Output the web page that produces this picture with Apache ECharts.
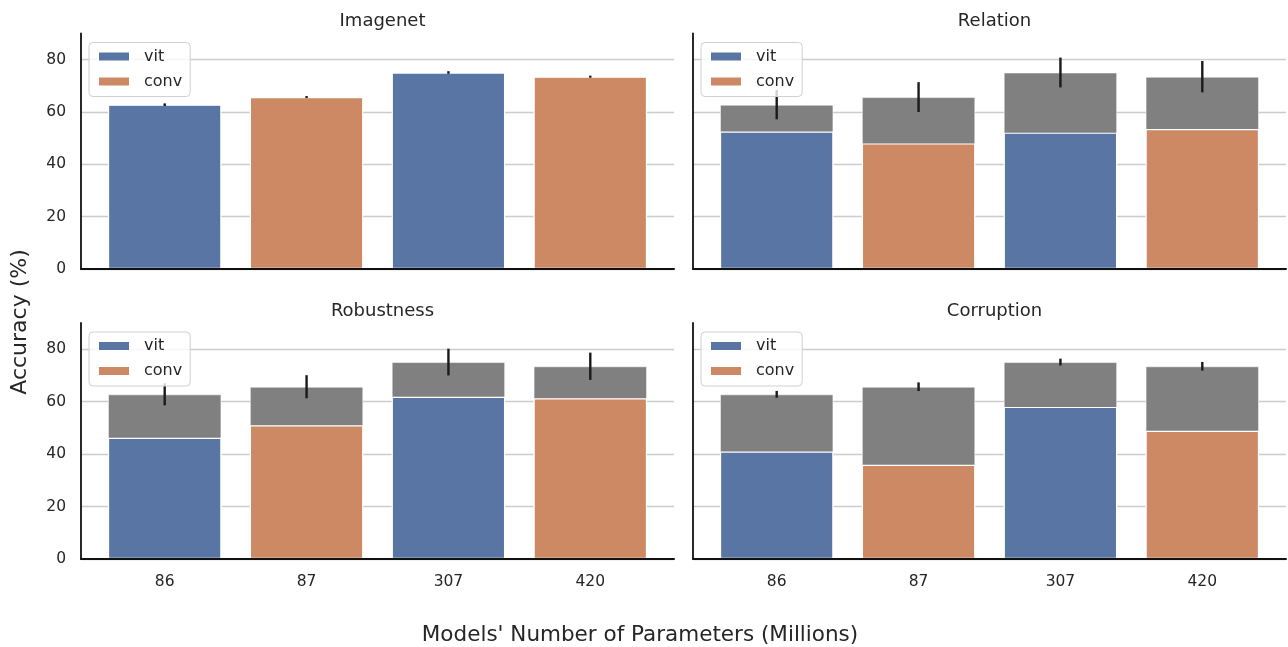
<!DOCTYPE html>
<html>
<head>
<meta charset="utf-8">
<title>Accuracy by model size</title>
<script src="https://cdn.jsdelivr.net/npm/echarts@6/dist/echarts.min.js"></script>
<style>
  html, body { margin: 0; padding: 0; background: #ffffff; }
  #chart { width: 1288px; height: 647px; }
</style>
</head>
<body>
<div id="chart"></div>
<script>
// Model sizes (millions of parameters) and architecture family of each bar
const categories = ['86', '87', '307', '420'];
const families = ['vit', 'conv', 'vit', 'conv'];

// Imagenet accuracy (%) and its spread; also drawn in grey behind the other panels
const imagenetAcc = [62.8, 65.7, 75.1, 73.5];
const imagenetErr = [0.5, 0.4, 0.5, 0.4];

// Per-benchmark accuracy (%) and the error drawn on the Imagenet bar top
const relationAcc = [52.5, 48.0, 52.1, 53.5];
const relationErr = [5.6, 5.7, 5.7, 6.0];
const robustnessAcc = [46.2, 51.0, 61.9, 61.3];
const robustnessErr = [4.2, 4.4, 5.1, 5.2];
const corruptionAcc = [41.0, 35.9, 58.0, 48.9];
const corruptionErr = [1.3, 1.65, 1.3, 1.65];

const yTicks = [0, 20, 40, 60, 80];

const panelTitles = ['Imagenet', 'Relation', 'Robustness', 'Corruption'];
const xTitle = "Models' Number of Parameters (Millions)";
const yTitle = 'Accuracy (%)';

// ---- styling / layout ----
const FONT = '"DejaVu Sans", sans-serif';
const TEXT = '#262626';
const COLORS = { vit: '#5975a4', conv: '#cc8963', base: '#808080' };
const X_MIN = -0.59, X_MAX = 3.59, Y_MAX = 90;
const BAR_FRAC = 0.8;
const panelBoxes = [
  { left: 81, top: 33.5, width: 593, height: 235.5 },
  { left: 693, top: 33.5, width: 593, height: 235.5 },
  { left: 81, top: 323, width: 593, height: 236 },
  { left: 693, top: 323, width: 593, height: 236 }
];

const panels = [
  { acc: imagenetAcc, err: imagenetErr, base: null },
  { acc: relationAcc, err: relationErr, base: imagenetAcc },
  { acc: robustnessAcc, err: robustnessErr, base: imagenetAcc },
  { acc: corruptionAcc, err: corruptionErr, base: imagenetAcc }
];

const grids = [], xAxes = [], yAxes = [], series = [], titles = [], legends = [];

panels.forEach((p, k) => {
  const box = panelBoxes[k];
  const barWidth = BAR_FRAC * box.width / (X_MAX - X_MIN);
  grids.push({ left: box.left, top: box.top, width: box.width, height: box.height, containLabel: false });

  // bottom spine sits above the bars so their edges tuck under it
  xAxes.push({
    gridIndex: k, type: 'value', min: X_MIN, max: X_MAX, z: 6,
    axisLine: { show: true, onZero: false, lineStyle: { color: '#111111', width: 2 } },
    axisTick: { show: false },
    splitLine: { show: false },
    axisLabel: {
      show: k >= 2,
      customValues: [0, 1, 2, 3],
      formatter: v => categories[Math.round(v)],
      color: TEXT, fontFamily: FONT, fontSize: 15.5, margin: 15
    }
  });

  yAxes.push({
    gridIndex: k, type: 'value', min: 0, max: Y_MAX, interval: 20,
    axisLine: { show: true, onZero: false, lineStyle: { color: '#111111', width: 1.8 } },
    axisTick: { show: false },
    axisLabel: {
      show: k % 2 === 0,
      customValues: yTicks,
      color: TEXT, fontFamily: FONT, fontSize: 15.5, margin: 15
    },
    splitLine: { show: true, showMaxLine: false, lineStyle: { color: '#cccccc', width: 1.3 } }
  });

  const barCommon = {
    type: 'bar', xAxisIndex: k, yAxisIndex: k, barWidth: barWidth, barGap: '-100%',
    animation: false
  };

  if (p.base) {
    series.push(Object.assign({}, barCommon, {
      name: 'imagenet',
      data: p.base.map((v, i) => [i, v]),
      itemStyle: { color: COLORS.base, borderColor: 'rgba(255,255,255,0.55)', borderWidth: 1 }
    }));
  }
  ['vit', 'conv'].forEach(fam => {
    series.push(Object.assign({}, barCommon, {
      name: fam,
      data: p.acc.map((v, i) => [i, v]).filter((d, i) => families[i] === fam),
      itemStyle: { color: COLORS[fam], borderColor: '#ffffff', borderWidth: 1.2 }
    }));
  });

  // error bars sit on the Imagenet bar top
  const centre = p.base || p.acc;
  const err = p.err;
  series.push({
    type: 'custom', xAxisIndex: k, yAxisIndex: k, z: 3, animation: false,
    silent: true,
    data: centre.map((c, i) => [i, c]),
    encode: { x: 0, y: 1 },
    renderItem: (params, api) => {
      const i = params.dataIndex;
      const a = api.coord([i, centre[i] - err[i]]);
      const b = api.coord([i, centre[i] + err[i]]);
      return {
        type: 'line',
        shape: { x1: a[0], y1: a[1], x2: b[0], y2: b[1] },
        style: { stroke: '#1a1a1a', lineWidth: 2.4 }
      };
    }
  });

  titles.push({
    text: panelTitles[k],
    left: box.left + box.width / 2, textAlign: 'center',
    top: box.top - 26,
    textStyle: { fontFamily: FONT, fontSize: 18, fontWeight: 'normal', color: TEXT }
  });

  legends.push({
    show: true,
    data: ['vit', 'conv'],
    orient: 'vertical',
    left: box.left + 8, top: box.top + 9,
    icon: 'rect', itemWidth: 32, itemHeight: 10, itemGap: 7,
    padding: [5, 8, 6, 8],
    backgroundColor: 'rgba(255,255,255,0.8)',
    borderColor: '#d0d0d0', borderWidth: 1, borderRadius: 4,
    selectedMode: false,
    textStyle: { fontFamily: FONT, fontSize: 16, color: TEXT, padding: [0, 0, 0, 9], lineHeight: 18 }
  });
});

const chart = echarts.init(document.getElementById('chart'), null, { renderer: 'canvas' });
chart.setOption({
  backgroundColor: '#ffffff',
  animation: false,
  color: [COLORS.vit, COLORS.conv],
  title: titles,
  legend: legends,
  grid: grids,
  xAxis: xAxes,
  yAxis: yAxes,
  series: series,
  graphic: [
    {
      type: 'text', x: 640, y: 635,
      style: { text: xTitle, fontFamily: FONT, fontSize: 21.5, fill: TEXT, textAlign: 'center', textVerticalAlign: 'middle' }
    },
    {
      type: 'text', x: 20, y: 322, rotation: Math.PI / 2,
      style: { text: yTitle, fontFamily: FONT, fontSize: 22, fill: TEXT, textAlign: 'center', textVerticalAlign: 'middle' }
    }
  ]
});
</script>
</body>
</html>
